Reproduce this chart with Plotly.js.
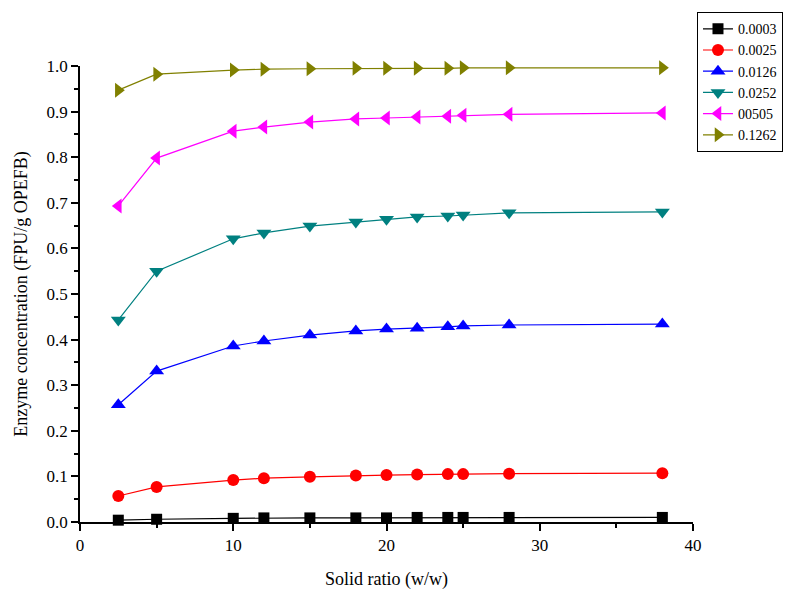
<!DOCTYPE html>
<html><head><meta charset="utf-8">
<script src="https://cdn.plot.ly/plotly-3.0.1.min.js"></script>
<style>html,body{margin:0;padding:0;background:#fff}</style>
</head><body>
<div id="chart" style="width:789px;height:590px"></div>
<script>
const solidRatio = [2.5, 5, 10, 12, 15, 18, 20, 22, 24, 25, 28, 38];
const seriesNames = ["0.0003", "0.0025", "0.0126", "0.0252", "00505", "0.1262"];
const s0003 = [0.004, 0.006, 0.008, 0.009, 0.009, 0.009, 0.009, 0.010, 0.010, 0.010, 0.010, 0.010];
const s0025 = [0.057, 0.077, 0.092, 0.096, 0.099, 0.102, 0.103, 0.104, 0.105, 0.105, 0.106, 0.107];
const s0126 = [0.257, 0.331, 0.386, 0.397, 0.410, 0.419, 0.423, 0.425, 0.428, 0.430, 0.432, 0.434];
const s0252 = [0.443, 0.550, 0.621, 0.634, 0.649, 0.658, 0.664, 0.669, 0.671, 0.673, 0.678, 0.680];
const s0505 = [0.693, 0.798, 0.857, 0.866, 0.877, 0.884, 0.886, 0.888, 0.890, 0.892, 0.894, 0.897];
const s1262 = [0.947, 0.982, 0.991, 0.993, 0.994, 0.995, 0.995, 0.995, 0.995, 0.996, 0.996, 0.996];
const allSeries = [s0003, s0025, s0126, s0252, s0505, s1262];
const colors = ["#000000", "#FF0000", "#0000FF", "#008080", "#FF00FF", "#808000"];
const symbols = ["square", "circle", "triangle-up", "triangle-down", "triangle-left", "triangle-right"];
const sizes = [11, 12, 13, 13, 13, 13];

const traces = allSeries.map((ys, i) => ({
  x: solidRatio, y: ys, name: seriesNames[i], type: "scatter", mode: "lines+markers",
  line: {color: colors[i], width: 1.2},
  marker: {color: colors[i], symbol: symbols[i], size: sizes[i]},
  cliponaxis: false
}));

const font = {family: "Liberation Serif, Times New Roman, serif", color: "#000"};
const layout = {
  width: 789, height: 590,
  margin: {l: 80, r: 96, t: 66, b: 68, autoexpand: false},
  paper_bgcolor: "#fff", plot_bgcolor: "#fff",
  font: Object.assign({size: 16}, font),
  showlegend: true,
  legend: {x: 1.0065, xanchor: "left", y: 1.118, yanchor: "top",
           bordercolor: "#000", borderwidth: 1, bgcolor: "#fff",
           font: Object.assign({size: 14}, font), tracegroupgap: 0},
  xaxis: {range: [0, 40], dtick: 10, showgrid: false, zeroline: false,
          showline: true, linecolor: "#000", linewidth: 1.5,
          ticks: "outside", ticklen: 7, tickwidth: 1.5, tickcolor: "#000",
          minor: {dtick: 5, ticks: "outside", ticklen: 4, tickwidth: 1.5, tickcolor: "#000"},
          tickfont: Object.assign({size: 17}, font),
          title: {text: "Solid ratio (w/w)", font: Object.assign({size: 18}, font), standoff: 18}},
  yaxis: {range: [0, 1.0], dtick: 0.1, tickformat: ".1f", showgrid: false, zeroline: false,
          showline: true, linecolor: "#000", linewidth: 1.5,
          ticks: "outside", ticklen: 7, tickwidth: 1.5, tickcolor: "#000",
          minor: {dtick: 0.05, ticks: "outside", ticklen: 4, tickwidth: 1.5, tickcolor: "#000"},
          tickfont: Object.assign({size: 17}, font),
          title: {text: "Enzyme concentration (FPU/g OPEFB)", font: Object.assign({size: 18}, font), standoff: 14}}
};
Plotly.newPlot("chart", traces, layout, {displayModeBar: false});
</script>
</body></html>
